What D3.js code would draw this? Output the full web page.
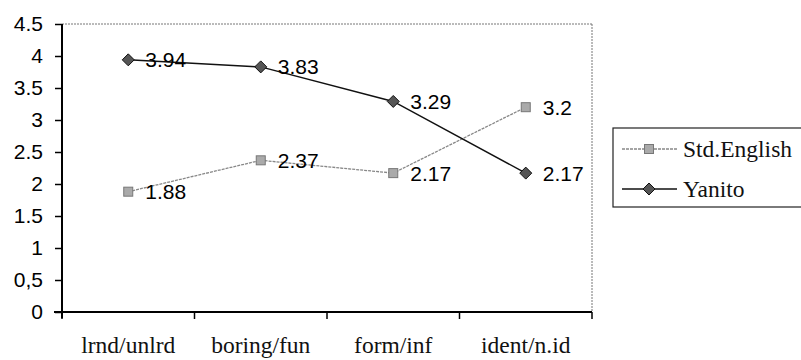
<!DOCTYPE html>
<html>
<head>
<meta charset="utf-8">
<script src="https://cdn.jsdelivr.net/npm/d3@7"></script>
<style>
  html, body { margin: 0; padding: 0; background: #fff; }
  svg { display: block; }
</style>
</head>
<body>
<svg id="chart" width="801" height="360"></svg>
<script>
// Ratings per attribute pair
const categories = ["lrnd/unlrd", "boring/fun", "form/inf", "ident/n.id"];
const stdEnglish = [1.88, 2.37, 2.17, 3.2];
const yanito = [3.94, 3.83, 3.29, 2.17];
const seriesNames = ["Std.English", "Yanito"];
const yTicks = [0, 0.5, 1, 1.5, 2, 2.5, 3, 3.5, 4, 4.5];
const yTickLabels = ["0", "0,5", "1", "1.5", "2", "2.5", "3", "3.5", "4", "4.5"];

const NUM_FONT = '"Liberation Sans"';
const SERIF_FONT = '"Liberation Serif"';

const svg = d3.select("#chart");
const plot = { left: 62, right: 592, top: 24, bottom: 312 };

const x = d3.scaleBand().domain(categories).range([plot.left, plot.right]);
const xc = d => x(d) + x.bandwidth() / 2;
const y = d3.scaleLinear().domain([0, 4.5]).range([plot.bottom, plot.top]);

// plot frame: dotted top and right edges
svg.append("line")
  .attr("x1", plot.left).attr("x2", plot.right)
  .attr("y1", plot.top).attr("y2", plot.top)
  .attr("stroke", "#777").attr("stroke-width", 1).attr("stroke-dasharray", "2,1");
svg.append("line")
  .attr("x1", plot.right).attr("x2", plot.right)
  .attr("y1", plot.top).attr("y2", plot.bottom)
  .attr("stroke", "#777").attr("stroke-width", 1).attr("stroke-dasharray", "2,1");

// y axis
const yAxis = d3.axisLeft(y).tickValues(yTicks)
  .tickFormat((d, i) => yTickLabels[i]).tickSize(7).tickPadding(12);
const gy = svg.append("g").attr("transform", `translate(${plot.left},0)`).call(yAxis);
gy.select(".domain").attr("stroke", "#000").attr("stroke-width", 2)
  .attr("d", `M0,${plot.top}V${plot.bottom + 6}`);
gy.selectAll(".tick line").attr("stroke", "#000").attr("stroke-width", 1.5);
gy.selectAll(".tick text")
  .style("font-family", NUM_FONT).style("font-size", "21px")
  .attr("fill", "#000");

// x axis with ticks between categories
const gx = svg.append("g").attr("transform", `translate(0,${plot.bottom})`);
gx.append("line").attr("x1", plot.left - 8).attr("x2", plot.right)
  .attr("stroke", "#000").attr("stroke-width", 2);
const boundaries = categories.map(c => x(c)).concat([plot.right]);
gx.selectAll("line.tk").data(boundaries).join("line").attr("class", "tk")
  .attr("x1", d => d).attr("x2", d => d).attr("y1", 0).attr("y2", 7)
  .attr("stroke", "#000").attr("stroke-width", 1.5);
gx.selectAll("text.cat").data(categories).join("text")
  .attr("class", "cat")
  .attr("x", d => xc(d)).attr("y", 41)
  .attr("text-anchor", "middle")
  .style("font-family", SERIF_FONT).style("font-size", "23.5px")
  .attr("fill", "#111")
  .text(d => d);

const line = d3.line().x((d, i) => xc(categories[i])).y(d => y(d));

// Std.English series
svg.append("path").datum(stdEnglish).attr("d", line)
  .attr("fill", "none").attr("stroke", "#888").attr("stroke-width", 1.3)
  .attr("stroke-dasharray", "3,1");
// Yanito series
svg.append("path").datum(yanito).attr("d", line)
  .attr("fill", "none").attr("stroke", "#111").attr("stroke-width", 1.5);

// markers
function squareMarker(g, cx, cy) {
  g.append("rect").attr("x", cx - 4.5).attr("y", cy - 4.5).attr("width", 9).attr("height", 9)
    .attr("fill", "#aaa").attr("stroke", "#777").attr("stroke-width", 1);
}
function diamondMarker(g, cx, cy) {
  g.append("path").attr("d", `M${cx},${cy - 6}L${cx + 6},${cy}L${cx},${cy + 6}L${cx - 6},${cy}Z`)
    .attr("fill", "#555").attr("stroke", "#111").attr("stroke-width", 1);
}
const marks = svg.append("g");
stdEnglish.forEach((v, i) => squareMarker(marks, xc(categories[i]), y(v)));
yanito.forEach((v, i) => diamondMarker(marks, xc(categories[i]), y(v)));

// value labels
const labels = svg.append("g");
[stdEnglish, yanito].forEach(series => {
  series.forEach((v, i) => {
    labels.append("text")
      .attr("x", xc(categories[i]) + 17).attr("y", y(v) + 7.5)
      .style("font-family", NUM_FONT).style("font-size", "21px")
      .attr("fill", "#000")
      .text(String(v));
  });
});

// legend
const leg = svg.append("g");
leg.append("rect").attr("x", 613).attr("y", 128).attr("width", 200).attr("height", 79)
  .attr("fill", "#fff").attr("stroke", "#222").attr("stroke-width", 1.2);
const rows = [149, 189];
seriesNames.forEach((name, i) => {
  const ry = rows[i];
  leg.append("line").attr("x1", 622).attr("x2", 677).attr("y1", ry).attr("y2", ry)
    .attr("stroke", i === 0 ? "#888" : "#111").attr("stroke-width", i === 0 ? 1.3 : 1.5)
    .attr("stroke-dasharray", i === 0 ? "3,1" : null);
  if (i === 0) squareMarker(leg, 649, ry); else diamondMarker(leg, 649, ry);
  leg.append("text")
    .attr("x", 683).attr("y", ry + 7.5)
    .style("font-family", SERIF_FONT).style("font-size", "23.5px")
    .attr("fill", "#111")
    .text(name);
});
</script>
</body>
</html>
